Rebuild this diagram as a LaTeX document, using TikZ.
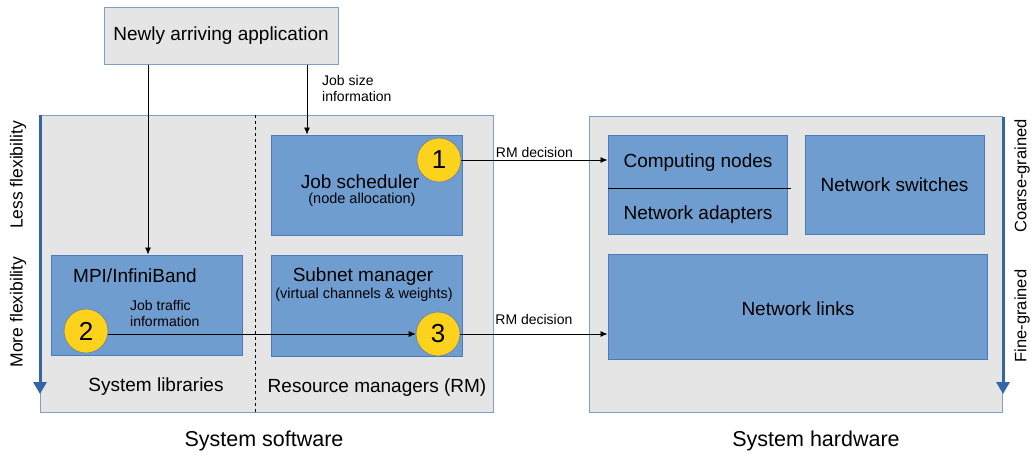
\documentclass[tikz,border=0pt]{standalone}
\usepackage{fontspec}
\setmainfont{Liberation Sans}
\usetikzlibrary{arrows.meta}
\definecolor{boxblue}{HTML}{6F9DCF}
\definecolor{boxedge}{HTML}{4A7BBE}
\definecolor{panel}{HTML}{E5E5E5}
\definecolor{paneledge}{HTML}{7F9FCB}
\definecolor{badge}{HTML}{FCD21C}
\definecolor{badgeedge}{HTML}{6B7FA0}
\definecolor{axisblue}{HTML}{3465A8}
\newcommand{\fs}[1]{\fontsize{#1}{#1}\selectfont}
\tikzset{
  panelbox/.style={draw=paneledge, fill=panel, line width=1pt, inner sep=0pt},
  bluebox/.style={draw=boxedge, fill=boxblue, line width=1pt, inner sep=0pt},
  badgenode/.style={circle, draw=badgeedge, fill=badge, line width=0.6pt, minimum size=44pt, inner sep=0pt, font=\fs{26}},
  arr/.style={-{Latex[length=7pt,width=6pt]}, line width=0.8pt, black},
  axis/.style={-{Triangle[length=12pt,width=13pt]}, line width=3pt, axisblue},
  lbl/.style={inner sep=0pt, font=\fs{19}},
  small/.style={inner sep=0pt, font=\fs{14}, align=left},
  side/.style={inner sep=0pt, font=\fs{17.5}, rotate=90},
}
\begin{document}
\begin{tikzpicture}[x=1pt, y=-1pt]
\useasboundingbox (0,0) rectangle (1032,458);

% panels
\node[panelbox, minimum width=234, minimum height=57] (app) at (221,35.5) {};
\node[lbl] at (app.center) {Newly arriving application};
\node[panelbox, minimum width=453, minimum height=297] (sw) at (266.5,263.5) {};
\node[panelbox, minimum width=413, minimum height=296] (hw) at (795.5,264) {};

% divider between libraries and resource managers
\coordinate (divx) at (255,0);
\draw[dashed, line width=1pt] (sw.north -| divx) -- (sw.south -| divx);

% software blocks
\node[bluebox, minimum width=191, minimum height=100] (js) at (366.5,185) {};
\node[lbl] at (360,182) {Job scheduler};
\node[inner sep=0pt, font=\fs{14.5}] at (362,200) {(node allocation)};

\node[bluebox, minimum width=191, minimum height=101] (sm) at (366.5,305.5) {};
\node[lbl] at (363,277) {Subnet manager};
\node[inner sep=0pt, font=\fs{14.5}] at (364,295) {(virtual channels \& weights)};

\node[bluebox, minimum width=191, minimum height=100] (mpi) at (146.5,305) {};
\node[lbl, anchor=west] at (73,276) {MPI/InfiniBand};
\node[small, anchor=west] at (130,313) {Job traffic\\[2pt]information};

\node[lbl] at (156,387) {System libraries};
\node[lbl] at (377,388) {Resource managers (RM)};

% hardware blocks
\node[bluebox, minimum width=179, minimum height=99] (cn) at (697.5,184.5) {};
\node[lbl] at (698,163) {Computing nodes};
\node[lbl] at (698,215) {Network adapters};
\coordinate (cnsplitR) at (791,188);
\draw[line width=1pt] (cn.west |- cnsplitR) -- (cnsplitR);
\node[bluebox, minimum width=179, minimum height=99] (ns) at (894.5,184.5) {};
\node[lbl] at (ns.center) {Network switches};
\node[bluebox, minimum width=379, minimum height=105] (nl) at (797.5,306.5) {};
\node[lbl] at (798,309) {Network links};

% badges
\node[badgenode] (c1) at (439,160) {1};
\node[badgenode] (c2) at (86,331) {2};
\node[badgenode] (c3) at (438,334) {3};

% flows
\draw[arr] ([xshift=-73pt]app.south) -- ([xshift=-73pt]app.south |- mpi.north);
\draw[arr] ([xshift=86pt]app.south) -- ([xshift=86pt]app.south |- js.north);
\node[small, anchor=west] at (322,88) {Job size\\[2pt]information};
\draw[arr] (c2.east |- c3) -- (c3.west);
\draw[arr] (c1.east) -- (cn.west |- c1.east)
  node[midway, above=1.5pt, inner sep=0pt, font=\fs{14}] {RM decision};
\draw[arr] (c3.east) -- (nl.west |- c3.east)
  node[midway, above=9pt, inner sep=0pt, font=\fs{14}] {RM decision};

% flexibility / granularity axes
\coordinate (axL1) at (40,115);
\coordinate (axL2) at (40,394);
\coordinate (axR1) at (1003,117);
\coordinate (axR2) at (1003,394);
\draw[axis] (axL1) -- (axL2);
\draw[axis] (axR1) -- (axR2);
\node[side] at (18,175) {Less flexibility};
\node[side] at (18,312) {More flexibility};
\node[side, font=\fs{16.5}] at (1022,176) {Coarse-grained};
\node[side, font=\fs{16.5}] at (1022,316) {Fine-grained};

% captions
\node[inner sep=0pt, font=\fs{21.5}] at (264,441) {System software};
\node[inner sep=0pt, font=\fs{21.5}] at (816,441) {System hardware};
\end{tikzpicture}
\end{document}
